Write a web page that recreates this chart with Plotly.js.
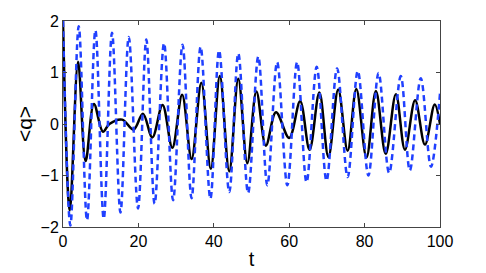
<!DOCTYPE html>
<html>
<head>
<meta charset="utf-8">
<script src="https://cdn.plot.ly/plotly-3.0.1.min.js"></script>
<style>html,body{margin:0;padding:0;background:#fff;}#chart{width:486px;height:273px;}</style>
</head>
<body>
<div id="chart"></div>
<script>
// Blue dashed series: extrema
const blueT = [0, 1.96, 4.17, 6.37, 8.6, 10.8, 13.0, 15.24, 17.44, 19.9, 22.1, 24.3, 26.8, 29.2, 31.7, 34.1, 36.5, 39.1, 41.4, 44.1, 46.5, 49.1, 51.8, 54.2, 56.8, 59.5, 62.1, 64.6, 67.3, 69.9, 72.7, 75.5, 78.2, 81.0, 83.7, 86.5, 89.6, 92.0, 94.9, 97.6, 100];
const blueQ = [2.0, -1.97, 1.9, -1.87, 1.82, -1.84, 1.77, -1.72, 1.69, -1.64, 1.64, -1.55, 1.57, -1.48, 1.54, -1.44, 1.5, -1.45, 1.43, -1.32, 1.37, -1.34, 1.31, -1.19, 1.2, -1.19, 1.2, -1.13, 1.11, -1.1, 1.08, -1.03, 1.03, -1.0, 0.99, -0.95, 0.93, -0.9, 0.89, -0.83, 0.59];

// Black solid series
const blackT = [0, 1.8, 4.0, 6.0, 8.2, 10.6, 12.3, 15.7, 18.7, 21.2, 23.7, 26.4, 29.0, 31.6, 34.1, 36.7, 39.2, 41.6, 44.1, 46.5, 48.9, 51.3, 53.8, 56.5, 60.0, 62.9, 65.4, 68.0, 70.4, 73.0, 75.5, 77.8, 80.5, 83.0, 85.6, 88.3, 90.7, 93.4, 96.0, 98.6, 100];
const blackQ = [2.0, -1.68, 1.21, -0.72, 0.39, -0.15, 0.0, 0.085, -0.11, 0.2, -0.26, 0.37, -0.46, 0.57, -0.68, 0.8, -0.87, 0.93, -0.92, 0.88, -0.76, 0.63, -0.42, 0.23, -0.27, 0.44, -0.5, 0.61, -0.64, 0.67, -0.52, 0.68, -0.65, 0.64, -0.58, 0.58, -0.5, 0.46, -0.4, 0.38, 0.0];

const xTicks = [0, 20, 40, 60, 80, 100];
const yTicks = [-2, -1, 0, 1, 2];

const font = {family: 'Liberation Sans, Arial, Helvetica, sans-serif', size: 16, color: '#000'};

const traces = [
  {x: blackT, y: blackQ, type: 'scatter', mode: 'lines',
   line: {color: '#000000', width: 2.5, shape: 'spline', smoothing: 1}, hoverinfo: 'skip'},
  {x: blueT, y: blueQ, type: 'scatter', mode: 'lines',
   line: {color: '#2040ff', width: 2.5, dash: '6px,4px', shape: 'spline', smoothing: 1}, hoverinfo: 'skip'}
];

const axisCommon = {
  showgrid: false, zeroline: false, showline: true, mirror: 'ticks',
  linecolor: '#444', linewidth: 1, ticks: 'inside', ticklen: 4, tickcolor: '#444',
  tickfont: font
};

const layout = {
  width: 486, height: 273,
  margin: {l: 63, r: 46, t: 21, b: 46},
  paper_bgcolor: '#fff', plot_bgcolor: '#fff',
  showlegend: false,
  font: font,
  xaxis: Object.assign({}, axisCommon, {
    range: [0, 100], tickvals: xTicks, ticktext: xTicks.map(String),
    title: {text: 't', font: {family: font.family, size: 20, color: '#000'}, standoff: 2}
  }),
  yaxis: Object.assign({}, axisCommon, {
    range: [-2, 2], tickvals: yTicks,
    title: {text: '&lt;q&gt;', font: {family: font.family, size: 21, color: '#000'}, standoff: 2}
  })
};

Plotly.newPlot('chart', traces, layout, {displayModeBar: false, staticPlot: true});
</script>
</body>
</html>
